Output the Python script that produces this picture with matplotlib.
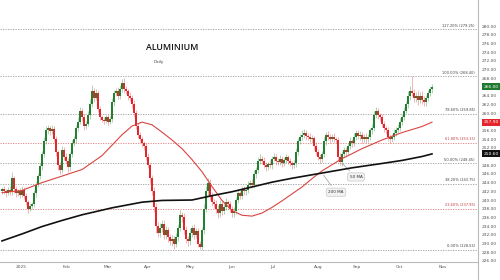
import numpy as np
import matplotlib
matplotlib.use("Agg")
import matplotlib.pyplot as plt
from matplotlib.lines import Line2D

# daily closes, Dec 2024 -> Oct 2025 (index = trading day)
closes = [
    242.5, 242.0, 241.6, 242.2, 241.8, 245.0, 242.5, 241.5, 242.0, 241.2,
    242.3, 241.0, 239.5, 238.0, 238.6, 239.0, 241.5, 243.5, 245.5, 247.8,
    250.5, 253.5, 256.0, 256.5, 255.8, 256.3, 254.0, 251.0, 248.0, 246.8,
    251.5, 250.0, 249.0, 247.5, 250.5, 253.0, 254.0, 256.5, 258.0, 260.5,
    259.0, 257.0, 257.5, 259.5, 262.0, 265.0, 263.5, 264.5, 261.0, 259.0,
    258.5, 258.2, 259.0, 258.0, 258.6, 262.5, 264.5, 265.0, 264.0, 265.5,
    267.0, 265.5, 265.0, 264.0, 263.5, 262.0, 260.0, 257.0, 255.0, 254.0,
    253.0, 252.5, 250.0, 248.0, 245.0, 242.0, 238.5, 234.0, 232.5, 233.5,
    234.5, 232.0, 233.0, 231.5, 230.5, 231.0, 230.0, 231.5, 233.5, 236.5,
    236.0, 233.0, 231.0, 230.5, 232.5, 233.5, 232.0, 232.8, 230.0, 229.2,
    233.0, 238.0, 242.0, 244.0, 241.0, 239.5, 239.0, 238.0, 237.0, 239.0,
    237.5, 238.5, 239.5, 239.0, 238.0, 237.0, 237.5, 240.0, 241.5, 241.0,
    242.5, 242.0, 242.3, 243.5, 244.0, 243.5, 246.0, 247.0, 249.0, 249.5,
    249.0, 248.0, 247.5, 248.2, 248.0, 249.5, 250.0, 249.0, 248.8, 249.5,
    248.5, 249.2, 249.8, 249.0, 248.5, 248.0, 248.5, 251.0, 253.5, 254.5,
    255.0, 255.5, 254.8, 254.5, 254.0, 254.2, 252.5, 251.0, 250.0, 249.5,
    250.5, 253.5, 255.0, 254.5, 254.0, 254.5, 254.0, 253.8, 250.0, 248.8,
    250.5, 251.5, 251.0, 252.5, 253.5, 253.0, 254.5, 255.5, 254.8, 255.0,
    254.0, 254.5, 254.0, 254.5, 256.0, 256.5, 259.5, 260.5, 259.5, 259.0,
    257.5, 256.5, 256.0, 254.5, 254.0, 254.5, 255.5, 256.0, 256.5, 258.0,
    259.0, 260.5, 262.0, 264.0, 265.0, 264.5, 263.5, 264.0, 263.0, 264.0,
    263.0, 262.5, 263.5, 264.5, 265.5, 266.0,
]
first_open = 242.0

up_wick = [
    0.6, 0.8, 0.5, 0.7, 1.0, 1.5, 0.6, 0.8, 0.5, 0.7,
    0.9, 0.6, 0.7, 0.5, 0.8, 0.6, 0.9, 0.7, 0.8, 0.6,
    0.7, 0.9, 1.0, 0.8, 0.6, 0.9, 0.7, 0.8, 0.6, 0.7,
    0.9, 0.6, 0.8, 0.7, 0.6, 0.9, 0.7, 0.8, 1.0, 0.9,
    0.7, 0.8, 0.6, 0.9, 1.2, 1.4, 0.8, 1.0, 0.7, 0.6,
    0.5, 0.6, 0.5, 0.7, 0.6, 0.9, 0.8, 0.7, 0.9, 1.0,
    0.8, 1.0, 0.7, 0.6, 0.8, 0.7, 0.9, 0.8, 0.6, 0.7,
    0.8, 0.6, 0.7, 0.9, 0.6, 0.8, 1.0, 0.7, 0.9, 1.2,
    1.0, 0.8, 1.1, 0.9, 0.7, 1.0, 0.8, 0.9, 1.0, 1.2,
    0.8, 0.9, 1.0, 0.7, 1.1, 0.8, 0.9, 0.7, 0.8, 0.6,
    0.9, 1.0, 1.2, 1.0, 0.8, 0.9, 0.7, 1.0, 0.8, 0.9,
    0.7, 0.8, 0.9, 0.6, 0.8, 0.7, 0.9, 0.8, 0.7, 0.6,
    0.8, 0.7, 0.6, 0.9, 0.7, 0.8, 0.9, 0.7, 0.8, 1.0,
    0.6, 0.8, 0.7, 0.6, 0.9, 0.7, 0.8, 0.6, 0.7, 0.9,
    0.6, 0.7, 0.8, 0.6, 0.7, 0.5, 0.8, 0.9, 0.8, 0.7,
    1.0, 0.8, 0.7, 0.6, 0.8, 0.7, 0.6, 0.8, 0.7, 0.6,
    0.8, 0.9, 0.7, 0.8, 0.6, 0.7, 0.8, 0.6, 0.7, 0.9,
    0.7, 0.8, 0.6, 0.7, 0.9, 0.6, 0.8, 0.7, 0.6, 0.8,
    0.7, 0.6, 0.8, 0.7, 0.6, 0.9, 1.0, 0.8, 0.7, 0.6,
    0.8, 0.7, 0.6, 0.8, 0.7, 0.6, 0.8, 0.7, 0.9, 0.8,
    0.7, 0.9, 0.8, 1.0, 1.2, 3.5, 1.0, 0.8, 1.2, 0.9,
    1.0, 0.8, 0.7, 0.9, 0.8, 0.7,
]
down_wick = [
    0.7, 0.6, 0.8, 0.5, 0.7, 0.6, 0.9, 0.7, 0.6, 0.8,
    0.6, 0.8, 0.7, 0.9, 0.6, 0.7, 0.5, 0.8, 0.6, 0.7,
    0.8, 0.6, 0.7, 0.9, 0.8, 0.6, 0.7, 0.9, 1.0, 0.8,
    0.7, 0.8, 0.6, 1.0, 0.8, 0.7, 0.6, 0.8, 0.7, 0.6,
    0.8, 0.9, 0.7, 0.6, 0.8, 0.7, 0.9, 0.6, 0.8, 0.7,
    0.6, 0.7, 0.5, 0.8, 0.6, 0.7, 0.8, 0.6, 0.7, 0.8,
    0.7, 0.8, 0.6, 0.9, 0.7, 0.8, 0.9, 0.7, 0.8, 0.6,
    0.7, 0.9, 0.8, 0.7, 1.0, 0.9, 1.2, 1.5, 1.0, 0.9,
    0.8, 1.0, 0.9, 1.1, 0.8, 1.0, 1.2, 0.8, 0.9, 0.7,
    1.0, 0.8, 0.9, 1.1, 0.8, 0.9, 1.0, 0.7, 0.9, 0.5,
    0.8, 0.9, 0.7, 0.8, 1.0, 0.9, 0.8, 1.0, 1.1, 0.8,
    0.9, 0.7, 0.8, 0.9, 0.7, 1.0, 0.8, 0.7, 0.6, 0.8,
    0.7, 0.9, 0.8, 0.7, 0.6, 0.8, 0.7, 0.9, 0.8, 0.7,
    0.8, 0.7, 0.9, 0.6, 0.7, 0.8, 0.6, 0.9, 0.7, 0.8,
    0.9, 0.6, 0.7, 0.8, 0.7, 0.9, 0.6, 0.8, 0.7, 0.6,
    0.7, 0.8, 0.9, 0.6, 0.7, 0.8, 0.9, 0.7, 0.8, 0.9,
    0.7, 0.6, 0.8, 0.7, 0.9, 0.6, 0.7, 0.8, 1.0, 0.8,
    0.9, 0.7, 0.8, 0.6, 0.7, 0.8, 0.6, 0.7, 0.8, 0.9,
    0.8, 0.7, 0.9, 0.6, 0.7, 0.8, 0.7, 0.6, 0.8, 0.9,
    0.7, 0.8, 0.9, 1.0, 0.8, 0.7, 0.6, 0.8, 0.7, 0.6,
    0.8, 0.7, 0.6, 0.8, 0.9, 0.7, 1.0, 0.9, 1.1, 0.8,
    0.9, 1.0, 0.8, 0.7, 0.6, 0.8,
]

# moving averages (index, value)
ma50_idx = [0, 10, 20, 30, 40, 50, 55, 60, 65, 70, 75, 80, 85, 90, 95, 100,
            105, 110, 115, 120, 125, 130, 135, 140, 145, 150, 155, 160, 170,
            180, 190, 200, 210, 215]
ma50_val = [241.7, 242.2, 244.0, 245.5, 247.0, 250.2, 252.6, 255.0, 257.0, 257.9,
            257.3, 255.6, 253.8, 251.8, 249.3, 246.5, 243.1, 239.9, 237.6, 236.5,
            236.3, 237.0, 238.3, 239.8, 241.4, 243.0, 244.9, 246.7, 249.5,
            251.8, 253.8, 255.5, 256.9, 257.9]
ma200_idx = [0, 10, 20, 30, 40, 55, 70, 80, 95, 105, 115, 125, 135, 145, 160,
             175, 190, 200, 210, 215]
ma200_val = [230.6, 232.2, 233.9, 235.3, 236.6, 238.2, 239.5, 239.9, 240.0, 241.0,
             241.9, 243.0, 244.1, 245.0, 246.2, 247.4, 248.4, 249.1, 250.0, 250.6]

fib_pct = [0.0, 23.6, 38.2, 50.0, 61.8, 78.6, 100.0, 127.2]
fib_price = [228.55, 237.95, 243.75, 248.45, 253.15, 259.85, 268.40, 279.25]
fib_red = [23.6, 61.8]

month_pos = [9.5, 32.5, 53, 73, 94, 115, 135.5, 158, 177.5, 199, 220.5]
month_labels = ['2025', 'Feb', 'Mar', 'Apr', 'May', 'Jun', 'Jul', 'Aug', 'Sep', 'Oct', 'Nov']

GREEN = '#23802f'
RED = '#e3262b'
GRID = '#9a9a9a'

fig = plt.figure(figsize=(5, 2.8), dpi=100)
ax = fig.add_axes([0, 18 / 280, 478 / 500, 262 / 280])

c = np.array(closes)
o = np.concatenate([[first_open], c[:-1]])
hi = np.maximum(o, c) + np.array(up_wick)
lo = np.minimum(o, c) - np.array(down_wick)
x = np.arange(len(c))
up = c >= o
cols = np.where(up, GREEN, RED)

# fib levels
for pct, pr in zip(fib_pct, fib_price):
    col = '#e07a7a' if pct in fib_red else GRID
    ax.axhline(pr, color=col, lw=0.6, ls=(0, (1.5, 1.5)), zorder=1)
    ax.text(236.5, pr + 0.35, f"{pct:.2f}% ({pr:.2f})", fontsize=2.6,
            color='#c04040' if pct in fib_red else '#444444', ha='right', va='bottom')

# candles
ax.vlines(x, lo, hi, colors=cols, lw=0.45, alpha=0.55, zorder=2)
body = np.maximum(np.abs(c - o), 0.15)
ax.bar(x, body, bottom=np.minimum(o, c), width=0.75, color=cols, lw=0, zorder=3)

# moving averages
ax.plot(ma50_idx, ma50_val, color='#d9453f', lw=0.8, zorder=4)
ax.plot(ma200_idx, ma200_val, color='#111111', lw=1.2, zorder=4)

ax.set_xlim(-1, 238)
ax.set_ylim(225.75, 285.98)

# last value tags (their tick labels are hidden under them)
tags = [(closes[-1], '#1d7a2c'), (ma50_val[-1], '#e3262b'), (ma200_val[-1], '#111111')]

yt = np.arange(226, 281, 2)
ax.yaxis.tick_right()
ax.set_yticks(yt)
ax.set_yticklabels(["" if any(abs(v - t) < 1.3 for t, _ in tags) else f"{v:.2f}" for v in yt])
ax.tick_params(axis='y', length=0, labelsize=3.2, labelcolor='#555555', pad=3)
ax.set_xticks(month_pos)
ax.set_xticklabels(month_labels)
ax.tick_params(axis='x', length=0, labelsize=3.2, labelcolor='#555555', pad=2.5)
for s in ['top', 'left']:
    ax.spines[s].set_visible(False)
ax.spines['right'].set_color('#bbbbbb')
ax.spines['bottom'].set_color('#bbbbbb')
ax.spines['right'].set_linewidth(0.8)
ax.spines['bottom'].set_linewidth(0.8)
fig.add_artist(Line2D([478 / 500, 478 / 500], [0, 18 / 280], color='#bbbbbb', lw=0.8))

tr = ax.get_yaxis_transform()
for val, bg in tags:
    ax.text(1.012, val, f"{val:.2f}", transform=tr, fontsize=3.2, color='white',
            ha='left', va='center', clip_on=False,
            bbox=dict(boxstyle='square,pad=0.35', fc=bg, ec='none'))

# title
ax.text(85, 275.0, 'ALUMINIUM', fontsize=6.3, fontweight='semibold', color='#111111',
        ha='center', va='center', family='Open Sans')
ax.text(76, 271.7, 'Daily', fontsize=3.0, color='#444444', ha='left', va='center')

# MA labels
box = dict(boxstyle='round,pad=0.5', fc='#f2f2f2', ec='#c8c8c8', lw=0.5)
arrow = dict(arrowstyle='-', color='#aaaaaa', lw=0.6)
ax.annotate('50 MA', xy=(169, 248.9), xytext=(177, 245.3), fontsize=3.0,
            color='#333333', ha='center', va='center', bbox=box, arrowprops=arrow)
ax.annotate('200 MA', xy=(160, 246.2), xytext=(167, 241.8), fontsize=3.0,
            color='#333333', ha='center', va='center', bbox=box, arrowprops=arrow)

fig.savefig('out.png', dpi=100, facecolor='white')
